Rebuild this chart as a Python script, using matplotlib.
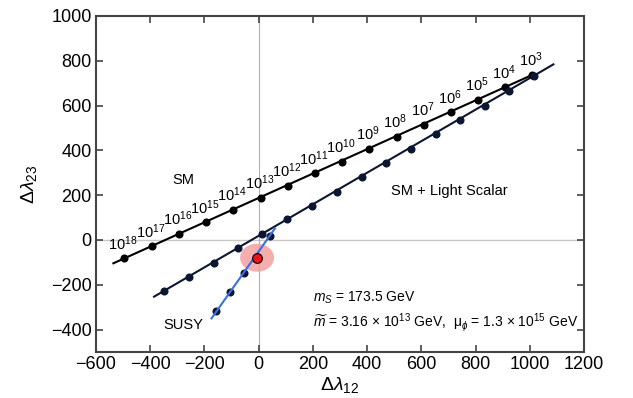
import numpy as np
import matplotlib.pyplot as plt
from matplotlib.patches import Ellipse

plt.rcParams['font.family'] = ['Liberation Sans', 'DejaVu Sans']
plt.rcParams['mathtext.fontset'] = 'custom'
plt.rcParams['mathtext.rm'] = 'Liberation Sans'
plt.rcParams['mathtext.it'] = 'Liberation Sans:italic'
plt.rcParams['mathtext.bf'] = 'Liberation Sans:bold'

# SM running, points labelled by scale (GeV)
sm_exp = [18, 17, 16, 15, 14, 13, 12, 11, 10, 9, 8, 7, 6, 5, 4, 3]
sm_x = [-495, -392, -294, -193, -93, 7, 107, 208, 307, 408, 509, 610, 709, 810, 910, 1009]
sm_y = [-82, -28, 27, 80, 134, 189, 242, 298, 350, 406, 461, 515, 570, 625, 682, 737]
sm_line_x = [-536, 1009]
sm_line_y = [-104, 737]

# SM + light scalar
ls_x = [-349, -258, -166, -76, 14, 105, 198, 289, 380, 471, 562, 653, 744, 835, 925, 1017]
ls_y = [-226, -164, -101, -37, 27, 92, 153, 216, 280, 344, 408, 472, 536, 600, 665, 730]
ls_line_x = [-386, 1087]
ls_line_y = [-253, 784]

# SUSY branch
susy_x = [-156, -106, -56, 42]
susy_y = [-316, -231, -149, 20]
susy_line_x = [-174, 60]
susy_line_y = [-350, 52]
best_x, best_y = -6, -79

fig = plt.figure(figsize=(6.33, 3.98), dpi=100)
ax = fig.add_axes([0.1517, 0.1156, 0.7709, 0.8442])

ax.axhline(0, color='#c8c8c8', lw=1, zorder=0)
ax.axvline(0, color='#b0b0b0', lw=0.8, zorder=0)

ax.add_patch(Ellipse((best_x, best_y), 125, 125, facecolor='#f4a0a0', edgecolor='none', alpha=0.85, zorder=1))

ax.plot(sm_line_x, sm_line_y, color='black', lw=1.5, zorder=2)
ax.plot(sm_x, sm_y, 'o', color='black', ms=4.8, zorder=3)

navy = '#0c1630'
ax.plot(ls_line_x, ls_line_y, color=navy, lw=1.5, zorder=2)
ax.plot(ls_x, ls_y, 'o', color=navy, ms=4.8, zorder=3)

blue = '#3a6fe0'
ax.plot(susy_line_x, susy_line_y, color=blue, lw=1.5, zorder=4)
ax.plot(susy_x, susy_y, 'o', color=navy, ms=4.8, zorder=3)
ax.plot([best_x], [best_y], 'o', color='#e8161b', mec='black', mew=0.8, ms=7, zorder=5)

for e, x, y in zip(sm_exp, sm_x, sm_y):
    ax.annotate(r'$\mathregular{10^{%d}}$' % e, (x, y), xytext=(-1, 4),
                textcoords='offset points', ha='center', va='bottom', fontsize=10.5)

ax.text(-279, 268, 'SM', fontsize=10.5, ha='center', va='center')
ax.text(702, 219, 'SM + Light Scalar', fontsize=10.5, ha='center', va='center')
ax.text(-279, -380, 'SUSY', fontsize=10.5, ha='center', va='center')
ax.text(200, -259, r'$m_S$ = 173.5 GeV', fontsize=10, ha='left', va='center')
ax.text(200, -370, r'$\widetilde{m}$ = 3.16 $\times$ 10$^{13}$ GeV,  $\mathregular{\mu}_{\phi}$ = 1.3 $\times$ 10$^{15}$ GeV',
        fontsize=10, ha='left', va='center')

ax.set_xlim(-600, 1200)
ax.set_ylim(-500, 1000)
ax.set_xticks(np.arange(-600, 1201, 200))
ax.set_yticks(np.arange(-400, 1001, 200))
ax.tick_params(direction='in', top=True, right=True, labelsize=13, length=5, width=1.2, color='#444444', pad=3)
for s in ax.spines.values():
    s.set_linewidth(1.5)
    s.set_color('#444444')

ax.set_xlabel(r'$\mathit{\Delta}\lambda_{12}$', fontsize=14, labelpad=1)
ax.set_ylabel(r'$\mathit{\Delta}\lambda_{23}$', fontsize=14, labelpad=9)

fig.savefig('out.png', dpi=100)
